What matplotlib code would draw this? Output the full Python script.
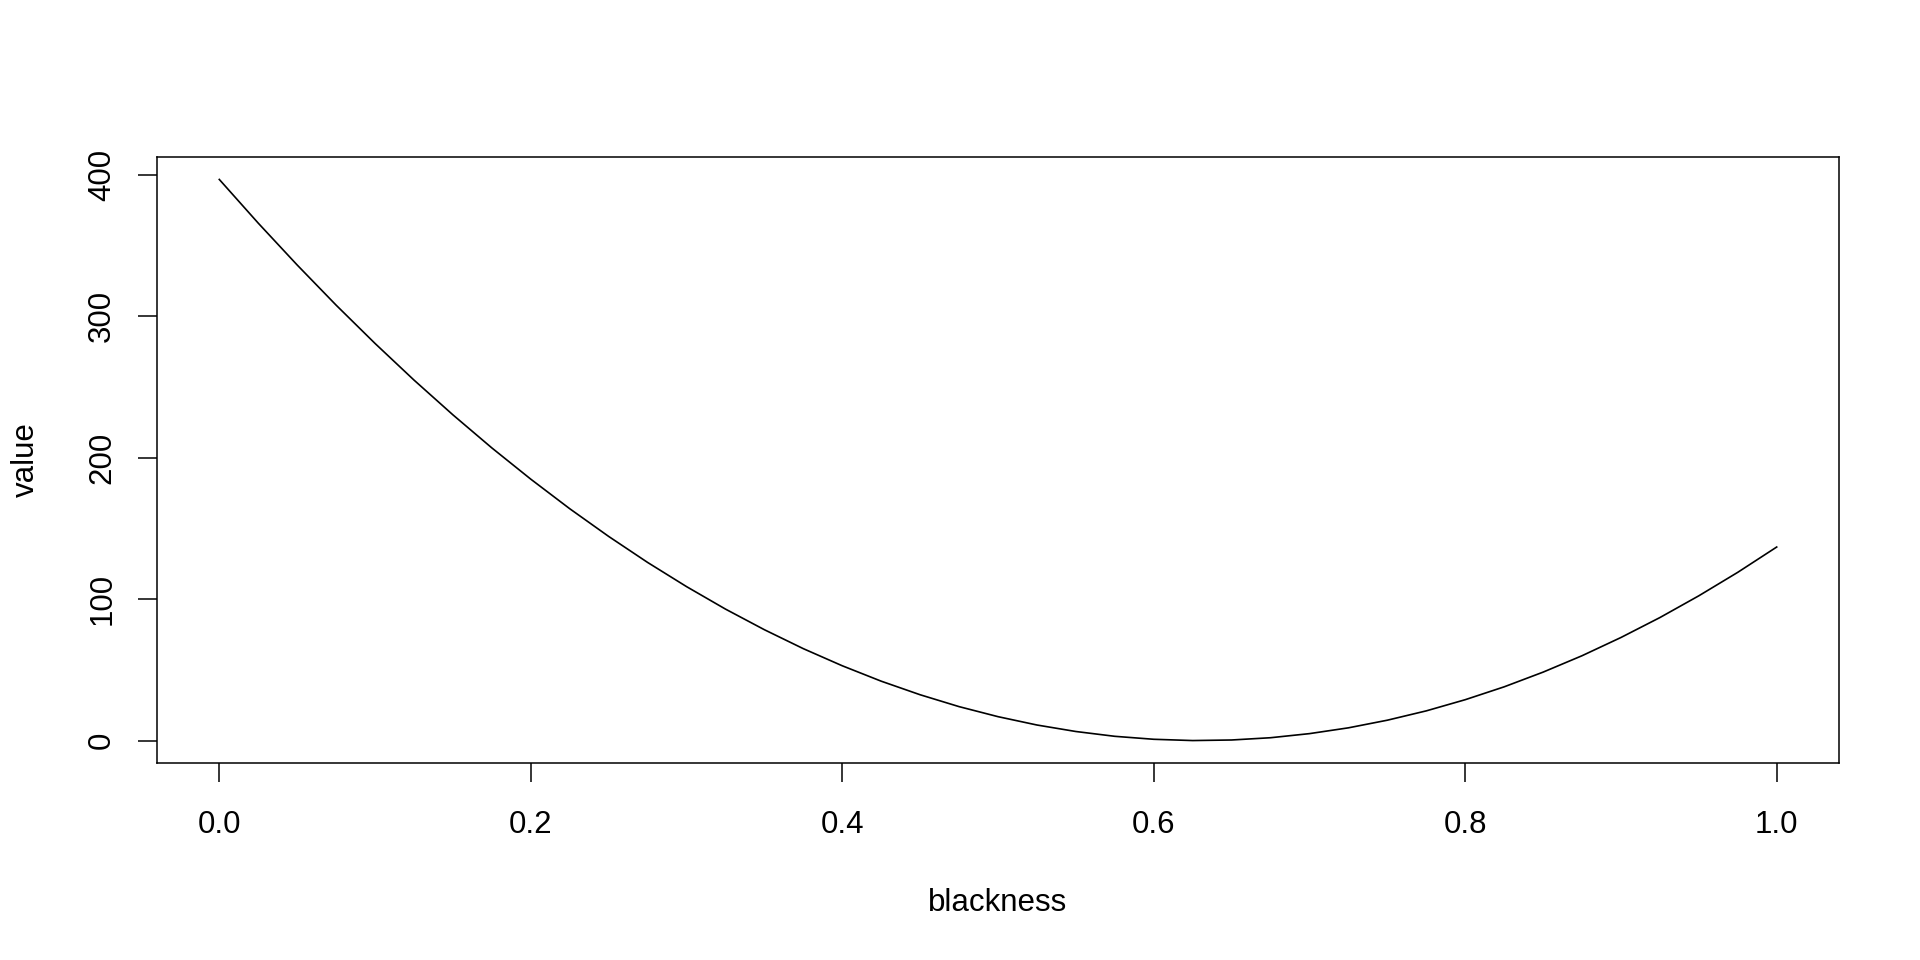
import matplotlib
matplotlib.use("Agg")
import matplotlib.pyplot as plt

# values
blackness = [0.0, 0.025, 0.05, 0.075, 0.1, 0.125, 0.15, 0.175, 0.2, 0.225,
             0.25, 0.275, 0.3, 0.325, 0.35, 0.375, 0.4, 0.425, 0.45, 0.475,
             0.5, 0.525, 0.55, 0.575, 0.6, 0.625, 0.65, 0.675, 0.7, 0.725,
             0.75, 0.775, 0.8, 0.825, 0.85, 0.875, 0.9, 0.925, 0.95, 0.975, 1.0]
value = [396.9, 366.0, 336.4, 308.0, 280.9, 255.0, 230.4, 207.0, 184.9, 164.0,
         144.4, 126.0, 108.9, 93.0, 78.4, 65.0, 52.9, 42.0, 32.4, 24.0,
         16.9, 11.0, 6.4, 3.0, 0.9, 0.0, 0.4, 2.0, 4.9, 9.0,
         14.4, 21.0, 28.9, 38.0, 48.4, 60.0, 72.9, 87.0, 102.4, 119.0, 136.9]

xticks = [0.0, 0.2, 0.4, 0.6, 0.8, 1.0]
xticklabels = ["0.0", "0.2", "0.4", "0.6", "0.8", "1.0"]
yticks = [0, 100, 200, 300, 400]
yticklabels = ["0", "100", "200", "300", "400"]

plt.rcParams['font.family'] = ['Liberation Sans', 'DejaVu Sans']

W, H = 1920, 960
fig = plt.figure(figsize=(W / 100, H / 100), dpi=100)
left, right, top, bottom = 157, 1839, 157, 763
ax = fig.add_axes([left / W, 1 - bottom / H, (right - left) / W, (bottom - top) / H])

ax.plot(blackness, value, color="black", lw=1.2, solid_joinstyle="round")

xr = max(blackness) - min(blackness)
ax.set_xlim(min(blackness) - 0.04 * xr, max(blackness) + 0.04 * xr)
yr = max(value) - min(value)
ax.set_ylim(min(value) - 0.04 * yr, max(value) + 0.04 * yr)

ax.set_xticks(xticks)
ax.set_xticklabels(xticklabels)
ax.set_yticks(yticks)
ax.set_yticklabels(yticklabels, rotation=90, va="center")

for s in ax.spines.values():
    s.set_linewidth(1.1)
    s.set_color("black")

fs = 22.5
ax.tick_params(axis="both", direction="out", length=13.7, width=1.1,
               labelsize=fs, colors="black")
ax.tick_params(axis="x", pad=20)
ax.tick_params(axis="y", pad=15)

ax.set_xlabel("blackness", fontsize=fs, va="center")
ax.xaxis.set_label_coords(0.5, (bottom - 903) / (bottom - top))
ax.set_ylabel("value", fontsize=fs, va="center")
ax.yaxis.set_label_coords((26 - left) / (right - left), 0.5)

fig.savefig("out.png", dpi=100)
